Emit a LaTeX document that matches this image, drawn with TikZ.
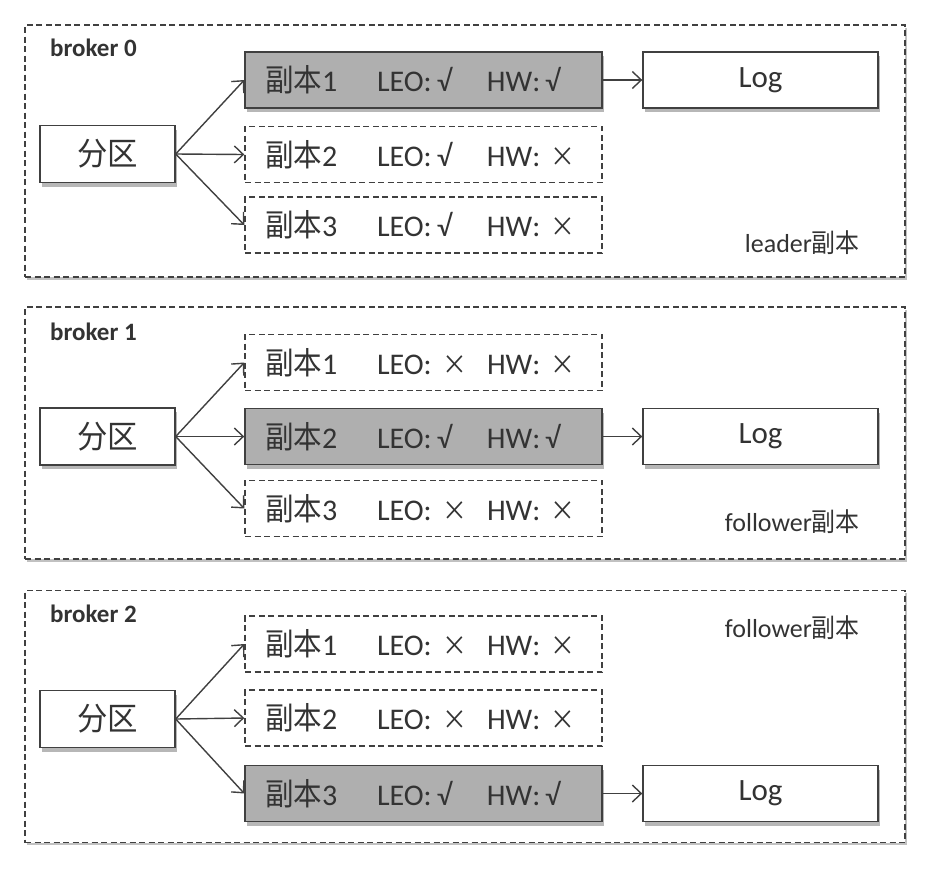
\documentclass[tikz,border=0pt]{standalone}
\usepackage{fontspec}
\setmainfont{Carlito}
\newfontfamily\cjk[FakeStretch=0.92]{Noto Sans CJK SC}
\newfontfamily\cjkp[FakeStretch=0.95]{Noto Sans CJK SC}
\usetikzlibrary{arrows.meta,shadows}
\definecolor{ln}{HTML}{404040}
\definecolor{tx}{HTML}{333333}
\definecolor{gf}{HTML}{AFAFAF}
\newcommand{\ok}{\fontsize{30}{32}\selectfont √}
\newcommand{\no}{\hspace{5pt}{\cjk\fontsize{27}{30}\selectfont ×}}
\newcommand{\rep}[3]{\makebox[112pt][l]{{\cjk\fontsize{31}{34}\selectfont 副本}\fontsize{30}{32}\selectfont #1}\makebox[60pt][l]{\fontsize{30}{32}\selectfont LEO:}\makebox[50pt][l]{#2}\makebox[58pt][l]{\fontsize{30}{32}\selectfont HW:}#3}
\tikzset{
  outer/.style={draw=ln, line width=1.4pt, dash pattern=on 6pt off 3.5pt, fill=white,
    drop shadow={shadow xshift=1.5pt, shadow yshift=-2.5pt, fill=black!35, opacity=0.7},
    minimum width=880pt, minimum height=252pt, inner sep=0pt},
  box/.style={draw=ln, line width=1.4pt, fill=white, inner sep=0pt, text=tx,
    drop shadow={shadow xshift=1.5pt, shadow yshift=-4pt, fill=black!40, opacity=0.7}},
  partbox/.style={box, minimum width=135pt, minimum height=57pt, font=\cjkp\fontsize{32}{36}\selectfont},
  logbox/.style={box, minimum width=235pt, minimum height=56pt, font=\fontsize{31}{34}\selectfont},
  repbox/.style={draw=ln, line width=1.4pt, dash pattern=on 6pt off 3.5pt, fill=white, text=tx,
    minimum width=357pt, minimum height=56pt, text width=317pt, inner xsep=20pt, inner ysep=0pt, align=left},
  repgray/.style={box, fill=gf, minimum width=357pt, minimum height=56pt, text width=317pt, inner xsep=20pt, inner ysep=0pt, align=left},
  blabel/.style={text=tx, font=\bfseries\fontsize{25}{28}\selectfont, anchor=west, inner sep=0pt},
  rlabel/.style={text=tx, font=\fontsize{26}{30}\selectfont, anchor=east, inner sep=0pt},
  arr/.style={draw=ln, line width=1.4pt, -{Straight Barb[length=9pt,width=17pt,line width=1.4pt]}}
}
\begin{document}
\begin{tikzpicture}[x=1pt,y=-1pt]
\useasboundingbox (0,0) rectangle (934,868);
% broker 0
\node[outer] (b0) at (465,151) {};
\node[blabel] (l0) at (50,48) {broker 0};
\node[partbox] (p0) at (107.5,154) {分区};
\node[repgray] (r01) at (423.5,80) {\rep{1}{\ok}{\ok}};
\node[repbox] (r02) at (423.5,154.5) {\rep{2}{\ok}{\no}};
\node[repbox] (r03) at (423.5,225) {\rep{3}{\ok}{\no}};
\node[logbox] (g0) at (760.5,80) {Log};
\node[rlabel] (t0) at (860,243) {leader{\cjk 副本}};
\draw[arr] (p0.east) -- (r01.west);
\draw[arr] (p0.east) -- (r02.west);
\draw[arr] (p0.east) -- (r03.west);
\draw[arr] (r01.east) -- (g0.west);
% broker 1
\node[outer] (b1) at (465,433) {};
\node[blabel] (l1) at (50,332) {broker 1};
\node[partbox] (p1) at (107.5,436.5) {分区};
\node[repbox] (r11) at (423.5,362.5) {\rep{1}{\no}{\no}};
\node[repgray] (r12) at (423.5,436.5) {\rep{2}{\ok}{\ok}};
\node[repbox] (r13) at (423.5,508.5) {\rep{3}{\no}{\no}};
\node[logbox] (g1) at (760.5,436.5) {Log};
\node[rlabel] (t1) at (860,522) {follower{\cjk 副本}};
\draw[arr] (p1.east) -- (r11.west);
\draw[arr] (p1.east) -- (r12.west);
\draw[arr] (p1.east) -- (r13.west);
\draw[arr] (r12.east) -- (g1.west);
% broker 2
\node[outer] (b2) at (465,716.5) {};
\node[blabel] (l2) at (50,614) {broker 2};
\node[partbox] (p2) at (107.5,719) {分区};
\node[repbox] (r21) at (423.5,644) {\rep{1}{\no}{\no}};
\node[repbox] (r22) at (423.5,718) {\rep{2}{\no}{\no}};
\node[repgray] (r23) at (423.5,793.5) {\rep{3}{\ok}{\ok}};
\node[logbox] (g2) at (760.5,793.5) {Log};
\node[rlabel] (t2) at (860,628) {follower{\cjk 副本}};
\draw[arr] (p2.east) -- (r21.west);
\draw[arr] (p2.east) -- (r22.west);
\draw[arr] (p2.east) -- (r23.west);
\draw[arr] (r23.east) -- (g2.west);
\end{tikzpicture}
\end{document}
